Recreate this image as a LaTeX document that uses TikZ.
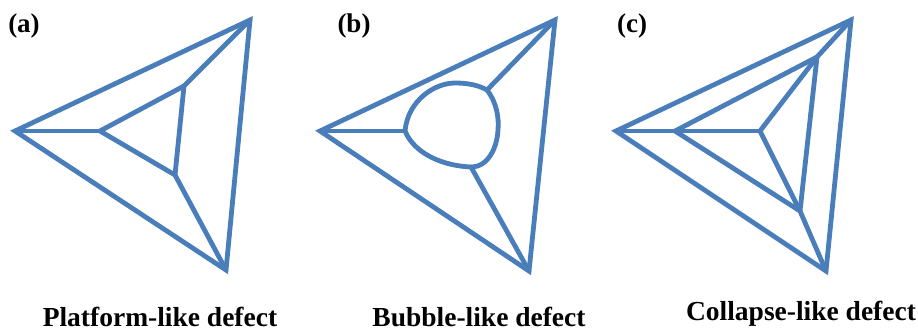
\documentclass[tikz,border=0pt]{standalone}
\usepackage{fontspec}
\setmainfont{Liberation Serif}
\usetikzlibrary{positioning,calc}
\definecolor{edge}{HTML}{4A7EBB}
\begin{document}
\begin{tikzpicture}[x=1pt,y=-1pt,
  wire/.style={draw=edge,line width=4.8pt,line join=miter,line cap=round},
  tag/.style={font=\fontsize{27}{30}\selectfont\bfseries,inner sep=0pt,anchor=center},
  caption/.style={font=\fontsize{27.5}{30}\selectfont\bfseries,inner sep=0pt,anchor=center}]
\useasboundingbox (0,0) rectangle (918,331);
% (a)
\coordinate (al) at (15,131); \coordinate (at) at (250,20); \coordinate (ab) at (226,270);
\coordinate (il) at (100,131); \coordinate (it) at (184,86); \coordinate (ib) at (175,175);
\draw[wire] (al)--(at)--(ab)--cycle;
\draw[wire] (il)--(it)--(ib)--cycle;
\draw[wire] (al)--(il); \draw[wire] (at)--(it); \draw[wire] (ab)--(ib);
\node[tag] (lba) at (24,26) {(a)};
\node[caption] (capa) at (160,317) {Platform-like defect};
% (b)
\coordinate (bl) at (320,131); \coordinate (bt) at (555,20); \coordinate (bb) at (529,271);
\coordinate (jl) at (405,131); \coordinate (jt) at (487,90); \coordinate (jb) at (471,167);
\draw[wire] (bl)--(bt)--(bb)--cycle;
\draw[wire] (jl) .. controls (408,100) and (435,83) .. (455,83) .. controls (470,83) and (480,86) .. (jt)
  .. controls (497,103) and (499,118) .. (498,130) .. controls (497,148) and (488,167) .. (jb)
  .. controls (445,166) and (415,155) .. (jl) -- cycle;
\draw[wire] (bl)--(jl); \draw[wire] (bt)--(jt); \draw[wire] (bb)--(jb);
\node[tag] (lbb) at (354,26) {(b)};
\node[caption] (capb) at (479,317) {Bubble-like defect};
% (c)
\coordinate (cl) at (616,131); \coordinate (ct) at (851,20); \coordinate (cb) at (826,271);
\coordinate (ml) at (675,131); \coordinate (mt) at (817,57); \coordinate (mb) at (800,211);
\coordinate (n) at (760,131);
\draw[wire] (cl)--(ct)--(cb)--cycle;
\draw[wire] (ml)--(mt)--(mb)--cycle;
\draw[wire] (cl)--(ml)--(n); \draw[wire] (ct)--(mt)--(n); \draw[wire] (cb)--(mb)--(n);
\node[tag] (lbc) at (632,26) {(c)};
\node[caption] (capc) at (801,314) {Collapse-like defect};
\end{tikzpicture}
\end{document}
